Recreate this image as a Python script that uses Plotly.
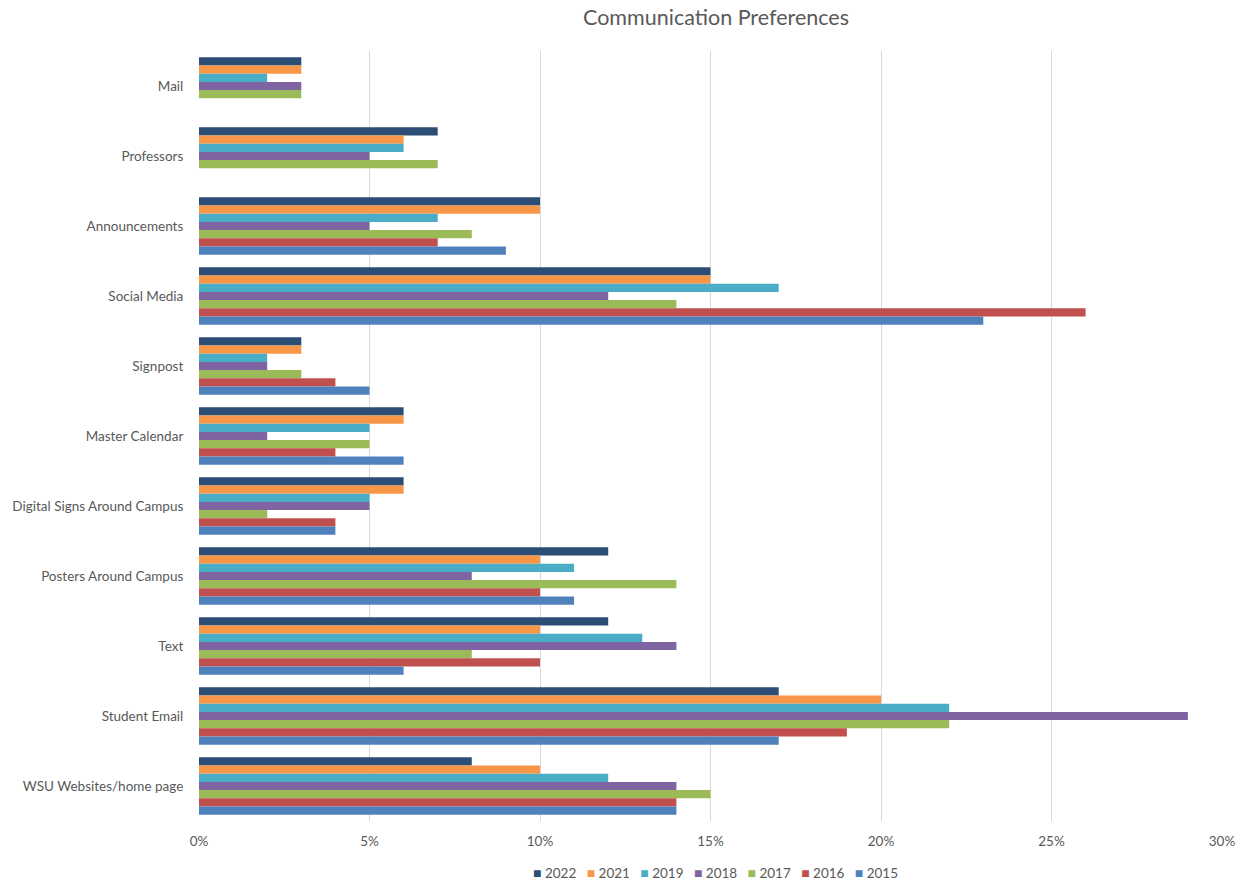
import plotly.graph_objects as go

categories = ["Mail", "Professors", "Announcements", "Social Media", "Signpost",
              "Master Calendar", "Digital Signs Around Campus", "Posters Around Campus",
              "Text", "Student Email", "WSU Websites/home page"]

series_names = ["2022", "2021", "2019", "2018", "2017", "2016", "2015"]

v2022 = [3, 7, 10, 15, 3, 6, 6, 12, 12, 17, 8]
v2021 = [3, 6, 10, 15, 3, 6, 6, 10, 10, 20, 10]
v2019 = [2, 6, 7, 17, 2, 5, 5, 11, 13, 22, 12]
v2018 = [3, 5, 5, 12, 2, 2, 5, 8, 14, 29, 14]
v2017 = [3, 7, 8, 14, 3, 5, 2, 14, 8, 22, 15]
v2016 = [None, None, 7, 26, 4, 4, 4, 10, 10, 19, 14]
v2015 = [None, None, 9, 23, 5, 6, 4, 11, 6, 17, 14]

values = [v2022, v2021, v2019, v2018, v2017, v2016, v2015]
colors = ["#2C4D75", "#F79646", "#4BACC6", "#8064A2", "#9BBB59", "#C0504D", "#4F81BD"]

x_ticks = [0, 5, 10, 15, 20, 25, 30]

W, H = 1247, 882
ML, MR, MT, MB = 196, 21, 51, 61
PW = W - ML - MR
PH = H - MT - MB

fig = go.Figure()
for name, vals, col in zip(series_names, values, colors):
    fig.add_trace(go.Bar(
        y=categories, x=vals, name=name, orientation="h",
        marker=dict(color=col, line=dict(width=0)),
    ))

font_family = "Lato, 'Open Sans', sans-serif"

# compact legend rendered as a text line (matching the original's small square keys)
legend_text = "&nbsp;&nbsp;&nbsp;".join(
    f"<span style='color:{c};font-size:14px'>■</span> {n}" for n, c in zip(series_names, colors)
)

fig.update_layout(
    width=W, height=H,
    barmode="group", bargap=0.18, bargroupgap=0,
    plot_bgcolor="white", paper_bgcolor="white",
    margin=dict(l=ML, r=MR, t=MT, b=MB),
    showlegend=False,
    title=dict(text="Communication Preferences", x=716 / W,
               xanchor="center", y=1 - 17 / H, yanchor="middle",
               font=dict(family=font_family, size=21.5, color="#595959")),
    font=dict(family=font_family, size=13.5, color="#595959"),
    xaxis=dict(range=[0, 30], tickvals=x_ticks, ticktext=[f"{t}%" for t in x_ticks],
               showgrid=True, gridcolor="#D9D9D9", gridwidth=1, zeroline=False,
               showline=False, ticks="outside", ticklen=8, tickcolor="white",
               tickfont=dict(size=13.5, color="#595959")),
    yaxis=dict(autorange="reversed", showgrid=False, showline=False, zeroline=False,
               ticks="outside", ticklen=12, tickcolor="white",
               tickfont=dict(size=13.5, color="#595959")),
    annotations=[dict(
        text=legend_text, xref="paper", yref="paper",
        x=(716 - ML) / PW, y=-(872 - (H - MB)) / PH,
        xanchor="center", yanchor="middle", showarrow=False,
        font=dict(family=font_family, size=13.5, color="#595959"),
    )],
)

fig.write_html("out.html")
